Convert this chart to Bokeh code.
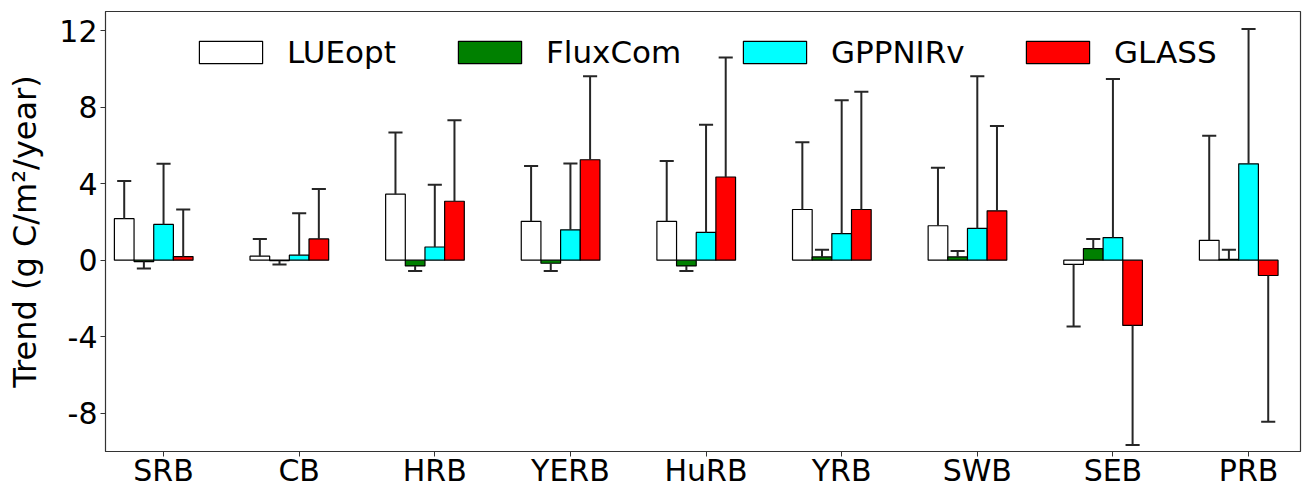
import numpy as np
from bokeh.plotting import figure
from bokeh.models import Range1d, FixedTicker, Legend, LegendItem, ColumnDataSource
from bokeh.embed import file_html
from bokeh.resources import INLINE

basins = ["SRB", "CB", "HRB", "YERB", "HuRB", "YRB", "SWB", "SEB", "PRB"]
series_names = ["LUEopt", "FluxCom", "GPPNIRv", "GLASS"]
series_colors = ["#ffffff", "#008000", "#00ffff", "#ff0000"]

lueopt = [2.17, 0.21, 3.45, 2.03, 2.03, 2.65, 1.80, -0.22, 1.04]
lueopt_err = [1.97, 0.90, 3.22, 2.89, 3.15, 3.51, 3.03, 3.24, 5.47]
fluxcom = [-0.07, -0.03, -0.30, -0.16, -0.30, 0.17, 0.17, 0.61, 0.04]
fluxcom_err = [0.36, 0.19, 0.27, 0.41, 0.27, 0.38, 0.31, 0.50, 0.51]
gppnirv = [1.87, 0.26, 0.69, 1.59, 1.45, 1.39, 1.66, 1.18, 5.04]
gppnirv_err = [3.17, 2.20, 3.26, 3.47, 5.63, 6.97, 7.95, 8.29, 7.05]
glass = [0.19, 1.11, 3.08, 5.25, 4.35, 2.65, 2.58, -3.41, -0.80]
glass_err = [2.46, 2.61, 4.24, 4.36, 6.25, 6.15, 4.43, 6.25, 7.65]

yticks = [-8, -4, 0, 4, 8, 12]

values = [lueopt, fluxcom, gppnirv, glass]
errors = [lueopt_err, fluxcom_err, gppnirv_err, glass_err]

FONT = "DejaVu Sans"
bar_w = 0.145
offsets = [-2 * bar_w, -bar_w, 0.0, bar_w]
cap_half = 0.052

p = figure(width=1312, height=490,
           x_range=Range1d(-0.428, 8.383), y_range=Range1d(-10, 13),
           output_backend="svg", toolbar_location=None,
           min_border_left=105, min_border_right=12,
           min_border_top=11, min_border_bottom=38)

renderers = []
xs_idx = np.arange(len(basins))
for name, col, vals, errs, off in zip(series_names, series_colors, values, errors, offsets):
    v = np.array(vals, dtype=float)
    e = np.array(errs, dtype=float)
    x = xs_idx + off
    sgn = np.where(v < 0, -1.0, 1.0)
    end = v + sgn * e
    src = ColumnDataSource(dict(x=x, top=v, bottom=np.zeros_like(v),
                                end=end, x0=x - cap_half, x1=x + cap_half))
    r = p.vbar(x="x", top="top", bottom="bottom", width=bar_w, source=src,
               fill_color=col, line_color="#000000", line_width=1.2)
    renderers.append(r)
    p.segment(x0="x", y0="top", x1="x", y1="end", source=src,
              line_color="#262626", line_width=2)
    p.segment(x0="x0", y0="end", x1="x1", y1="end", source=src,
              line_color="#262626", line_width=2)

# axes
p.xaxis.ticker = FixedTicker(ticks=list(range(len(basins))))
p.xaxis.major_label_overrides = {i: b for i, b in enumerate(basins)}
p.yaxis.ticker = FixedTicker(ticks=yticks)
p.yaxis.major_label_overrides = {t: str(t) for t in yticks}
p.yaxis.axis_label = "Trend (g C/m\u00b2/year)"

for ax in (p.xaxis[0], p.yaxis[0]):
    ax.major_label_text_font = FONT
    ax.major_label_text_font_size = "30px"
    ax.major_label_text_color = "#000000"
    ax.major_tick_in = 0
    ax.major_tick_out = 5
    ax.minor_tick_in = 0
    ax.minor_tick_out = 0
    ax.axis_line_color = "#333333"
    ax.major_tick_line_color = "#333333"
    ax.major_label_standoff = 3

p.xaxis.major_label_standoff = -4
p.yaxis.axis_label_text_font = FONT
p.yaxis.axis_label_text_font_size = "32px"
p.yaxis.axis_label_text_font_style = "normal"
p.yaxis.axis_label_text_color = "#000000"
p.yaxis.axis_label_standoff = 12

p.xgrid.visible = False
p.ygrid.visible = False
p.outline_line_color = "#333333"
p.outline_line_width = 1.2
p.background_fill_color = "#ffffff"
p.border_fill_color = "#ffffff"

# one legend entry per series, placed like the reference's single row
legend_box_left = [199, 458, 743, 1026]   # screen x of each legend swatch
gw, gh = 79, 28                           # Bokeh insets area swatches by 10%
for name, r, bx in zip(series_names, renderers, legend_box_left):
    lg = Legend(items=[LegendItem(label=name, renderers=[r])],
                orientation="horizontal",
                location=(int(round(bx - 105 - 0.1 * gw)), 381),
                glyph_width=gw, glyph_height=gh, label_standoff=17,
                label_height=36, padding=0, margin=0,
                border_line_alpha=0, background_fill_alpha=0,
                label_text_font=FONT, label_text_font_size="31px",
                label_text_color="#000000")
    p.add_layout(lg, "center")

open("out.html", "w").write(file_html(p, INLINE))
